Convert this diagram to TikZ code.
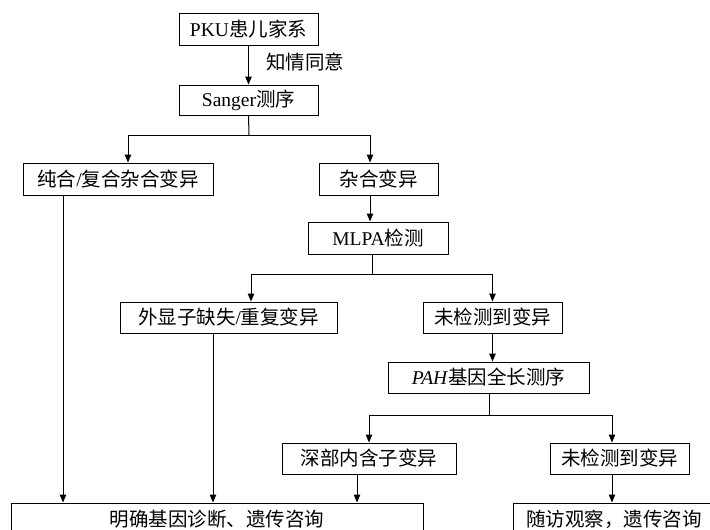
\documentclass[tikz,border=0pt]{standalone}
\usepackage{fontspec}
\setmainfont{Liberation Serif}
\newfontfamily\cjk{Noto Sans CJK SC}
\newcommand\zh[1]{{\cjk #1}}
\usetikzlibrary{arrows.meta}
\begin{document}
\begin{tikzpicture}[x=1pt,y=-1pt,line width=1pt,
  box/.style={draw,line width=1pt,inner sep=0pt,font=\fontsize{19.5}{22}\selectfont},
  lbl/.style={inner sep=0pt,font=\fontsize{19.5}{22}\selectfont},
  arr/.style={-{Triangle[length=8pt,width=6.5pt]}}]
\useasboundingbox (0,0) rectangle (710,530);
% boxes
\node[box,minimum width=139pt,minimum height=32pt] (pku) at (248.5,29) {PKU\zh{患儿家系}};
\node[box,minimum width=139pt,minimum height=30pt] (sanger) at (248.5,100) {Sanger\zh{测序}};
\node[lbl] (consent) at (305,62) {\zh{知情同意}};
\node[box,minimum width=190pt,minimum height=32pt] (hom) at (118,179) {\zh{纯合}/\zh{复合杂合变异}};
\node[box,minimum width=119pt,minimum height=32pt] (het) at (378.5,179) {\zh{杂合变异}};
\node[box,minimum width=140pt,minimum height=32pt] (mlpa) at (378,238) {MLPA\zh{检测}};
\node[box,minimum width=217pt,minimum height=31pt] (exon) at (228.5,317.5) {\zh{外显子缺失}/\zh{重复变异}};
\node[box,minimum width=139pt,minimum height=31pt] (nd1) at (492.5,317.5) {\zh{未检测到变异}};
\node[box,minimum width=201pt,minimum height=31pt] (pah) at (488.5,377.5) {\textit{PAH}\zh{基因全长测序}};
\node[box,minimum width=174pt,minimum height=31pt] (deep) at (369,458.5) {\zh{深部内含子变异}};
\node[box,minimum width=139pt,minimum height=31pt] (nd2) at (619.5,458.5) {\zh{未检测到变异}};
\node[box,minimum width=412pt,minimum height=32pt] (diag) at (217,519) {\zh{明确基因诊断、遗传咨询}};
\node[box,minimum width=202pt,minimum height=32pt] (fol) at (614,519) {\zh{随访观察，遗传咨询}};
% branch points
\coordinate (b1) at (249,135);
\coordinate (b2) at (372,274);
\coordinate (b3) at (489,415);
% connectors
\draw[arr] (pku) -- (sanger);
\draw (sanger.south) -- (b1);
\draw[arr] (b1) -| ([xshift=10pt]hom.north);
\draw[arr] (b1) -| ([xshift=-8.5pt]het.north);
\draw[arr] ([xshift=-8.5pt]het.south) -- ([xshift=-8.5pt]het.south |- mlpa.north);
\draw (b2 |- mlpa.south) -- (b2);
\draw[arr] (b2) -| ([xshift=22.5pt]exon.north);
\draw[arr] (b2) -| (nd1.north);
\draw[arr] (nd1.south) -- (nd1.south |- pah.north);
\draw (b3 |- pah.south) -- (b3);
\draw[arr] (b3) -| (deep.north);
\draw[arr] (b3) -| ([xshift=-7.5pt]nd2.north);
\draw[arr] ([xshift=-55pt]hom.south) -- ([xshift=-55pt]hom.south |- diag.north);
\draw[arr] ([xshift=-15.5pt]exon.south) -- ([xshift=-15.5pt]exon.south |- diag.north);
\draw[arr] ([xshift=-12pt]deep.south) -- ([xshift=-12pt]deep.south |- diag.north);
\draw[arr] ([xshift=-7.5pt]nd2.south) -- ([xshift=-7.5pt]nd2.south |- fol.north);
\end{tikzpicture}
\end{document}
